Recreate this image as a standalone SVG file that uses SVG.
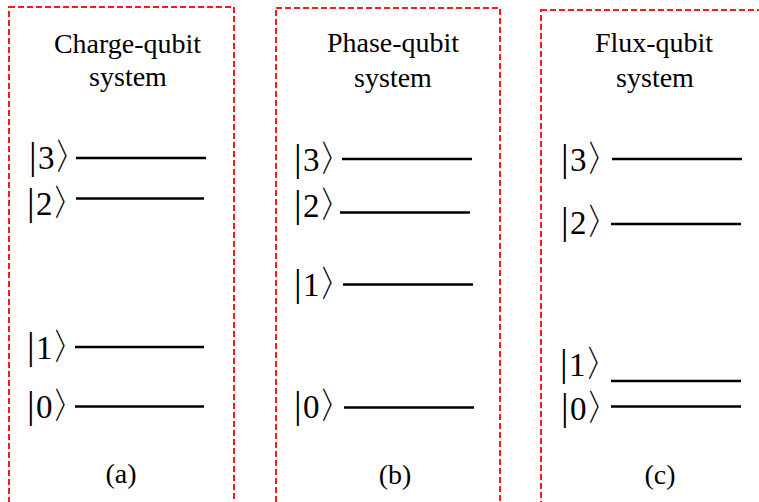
<svg xmlns="http://www.w3.org/2000/svg" width="759" height="502" viewBox="0 0 759 502">
<style>
.box{fill:none;stroke:#ff1a1a;stroke-width:2;stroke-dasharray:6 3}
.lvl{stroke:#000;stroke-width:2.6}
.t{font-family:"Liberation Serif","Times New Roman",serif;font-size:28px;fill:#000;text-anchor:middle}
.k{font-family:"Liberation Serif","Times New Roman",serif;font-size:33px;fill:#000}
.bar{font-size:38px}
.ang{font-family:"DejaVu Sans",sans-serif;font-size:37px;font-weight:200}
</style>
<rect width="759" height="502" fill="#fff"/>
<g id="panel-a">
<rect class="box" x="9" y="7" width="225" height="500"/>
<text class="t" x="127.5" y="53">Charge-qubit</text>
<text class="t" x="128" y="86">system</text>
<g id="a3"><text class="k" y="169"><tspan class="bar" x="29">|</tspan><tspan x="38">3</tspan><tspan class="ang" x="53">〉</tspan></text><line class="lvl" x1="76" y1="158" x2="206" y2="158"/></g>
<g id="a2"><text class="k" y="215"><tspan class="bar" x="27">|</tspan><tspan x="36">2</tspan><tspan class="ang" x="51">〉</tspan></text><line class="lvl" x1="76" y1="198.5" x2="204" y2="198.5"/></g>
<g id="a1"><text class="k" y="359"><tspan class="bar" x="27">|</tspan><tspan x="36">1</tspan><tspan class="ang" x="51">〉</tspan></text><line class="lvl" x1="75" y1="347" x2="204" y2="347"/></g>
<g id="a0"><text class="k" y="418"><tspan class="bar" x="27">|</tspan><tspan x="36">0</tspan><tspan class="ang" x="51">〉</tspan></text><line class="lvl" x1="75" y1="406.5" x2="204" y2="406.5"/></g>
<text class="t" x="121" y="483">(a)</text>
</g>
<g id="panel-b">
<rect class="box" x="276" y="8" width="224" height="500"/>
<text class="t" x="393" y="52">Phase-qubit</text>
<text class="t" x="393" y="87">system</text>
<g id="b3"><text class="k" y="171"><tspan class="bar" x="294">|</tspan><tspan x="303">3</tspan><tspan class="ang" x="318">〉</tspan></text><line class="lvl" x1="342" y1="159" x2="472" y2="159"/></g>
<g id="b2"><text class="k" y="217"><tspan class="bar" x="294">|</tspan><tspan x="303">2</tspan><tspan class="ang" x="318">〉</tspan></text><line class="lvl" x1="340" y1="212.5" x2="470" y2="212.5"/></g>
<g id="b1"><text class="k" y="296"><tspan class="bar" x="294">|</tspan><tspan x="303">1</tspan><tspan class="ang" x="318">〉</tspan></text><line class="lvl" x1="343" y1="284.5" x2="473" y2="284.5"/></g>
<g id="b0"><text class="k" y="418"><tspan class="bar" x="294">|</tspan><tspan x="303">0</tspan><tspan class="ang" x="318">〉</tspan></text><line class="lvl" x1="344" y1="407.5" x2="474" y2="407.5"/></g>
<text class="t" x="395" y="484">(b)</text>
</g>
<g id="panel-c">
<rect class="box" x="541" y="10" width="230" height="500"/>
<text class="t" x="654" y="52">Flux-qubit</text>
<text class="t" x="655" y="87">system</text>
<g id="c3"><text class="k" y="171"><tspan class="bar" x="561">|</tspan><tspan x="570">3</tspan><tspan class="ang" x="585">〉</tspan></text><line class="lvl" x1="612" y1="159" x2="742" y2="159"/></g>
<g id="c2"><text class="k" y="234"><tspan class="bar" x="561">|</tspan><tspan x="570">2</tspan><tspan class="ang" x="585">〉</tspan></text><line class="lvl" x1="611" y1="224" x2="741" y2="224"/></g>
<g id="c1"><text class="k" y="376"><tspan class="bar" x="560">|</tspan><tspan x="569">1</tspan><tspan class="ang" x="584">〉</tspan></text><line class="lvl" x1="611" y1="381" x2="741" y2="381"/></g>
<g id="c0"><text class="k" y="420"><tspan class="bar" x="561">|</tspan><tspan x="570">0</tspan><tspan class="ang" x="585">〉</tspan></text><line class="lvl" x1="611" y1="406.5" x2="741" y2="406.5"/></g>
<text class="t" x="660" y="484">(c)</text>
</g>
</svg>
